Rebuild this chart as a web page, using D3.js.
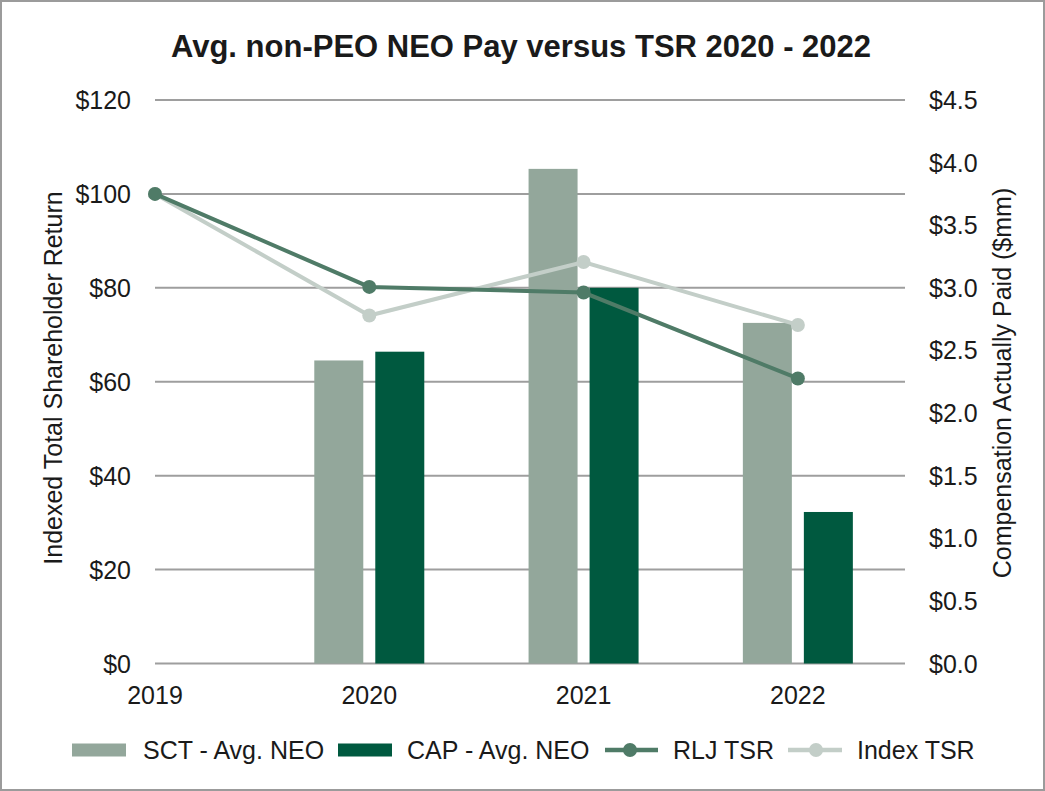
<!DOCTYPE html>
<html>
<head>
<meta charset="utf-8">
<script src="https://cdn.jsdelivr.net/npm/d3@7"></script>
<style>
  body { margin: 0; background: #fff; }
  svg { display: block; font-family: "Liberation Sans", Arial, sans-serif; }
</style>
</head>
<body>
<svg width="1045" height="791"></svg>
<script>
// data
const years = [2019, 2020, 2021, 2022]
const barYears = [2020, 2021, 2022]
const sctPay = [2.42, 3.95, 2.72]   // SCT - Avg. NEO ($mm)
const capPay = [2.49, 3.00, 1.21]   // CAP - Avg. NEO ($mm)
const rljTsr = [100, 80.2, 79.0, 60.7]
const indexTsr = [100, 74.1, 85.5, 72.1]
const leftTicks = [0, 20, 40, 60, 80, 100, 120]
const rightTicks = [0, 0.5, 1, 1.5, 2, 2.5, 3, 3.5, 4, 4.5]

const Width = 1045
const Height = 791
const svg = d3.select('svg')

const colSct = '#93a79b'
const colCap = '#00593f'
const colRlj = '#4f7b67'
const colIdx = '#c3cec8'
const ink = '#1a1a1a'

// outer frame
svg.append('rect').attr('x', 1).attr('y', 1).attr('width', Width - 2).attr('height', Height - 2)
  .attr('fill', '#fff').attr('stroke', '#9b9b9b').attr('stroke-width', 2)

// scales
const x = d3.scaleLinear().domain([2019, 2022.5]).range([155, 905])
const yL = d3.scaleLinear().domain([0, 120]).range([663.5, 100])
const yR = d3.scaleLinear().domain([0, 4.5]).range([663.5, 100])

// title
svg.append('text').attr('x', 521).attr('y', 57).attr('text-anchor', 'middle')
  .attr('font-size', 31).attr('font-weight', 'bold').attr('fill', ink)
  .text('Avg. non-PEO NEO Pay versus TSR 2020 - 2022')

// gridlines
svg.append('g').selectAll('line').data(leftTicks).enter().append('line')
  .attr('x1', 155).attr('x2', 905)
  .attr('y1', d => yL(d)).attr('y2', d => yL(d))
  .attr('stroke', '#9e9e9e').attr('stroke-width', 2)

// left axis labels
svg.append('g').selectAll('text').data(leftTicks).enter().append('text')
  .attr('x', 131).attr('y', d => yL(d) + 9).attr('text-anchor', 'end')
  .attr('font-size', 25).attr('fill', ink)
  .text(d => '$' + d)

// right axis labels
svg.append('g').selectAll('text').data(rightTicks).enter().append('text')
  .attr('x', 929).attr('y', d => yR(d) + 9).attr('text-anchor', 'start')
  .attr('font-size', 25).attr('fill', ink)
  .text(d => '$' + d.toFixed(1))

// x labels
svg.append('g').selectAll('text').data(years).enter().append('text')
  .attr('x', d => x(d)).attr('y', 704).attr('text-anchor', 'middle')
  .attr('font-size', 25).attr('fill', ink)
  .text(d => d)

// axis titles
svg.append('text').attr('transform', 'translate(62,378) rotate(-90)')
  .attr('text-anchor', 'middle').attr('font-size', 25).attr('fill', ink)
  .text('Indexed Total Shareholder Return')
svg.append('text').attr('transform', 'translate(1011,383) rotate(-90)')
  .attr('text-anchor', 'middle').attr('font-size', 25).attr('fill', ink)
  .text('Compensation Actually Paid ($mm)')

// bars
const barW = 49
svg.append('g').selectAll('rect').data(barYears).enter().append('rect')
  .attr('x', d => x(d) - 55).attr('width', barW)
  .attr('y', (d, i) => yR(sctPay[i])).attr('height', (d, i) => yR(0) - yR(sctPay[i]))
  .attr('fill', colSct)
svg.append('g').selectAll('rect').data(barYears).enter().append('rect')
  .attr('x', d => x(d) + 6).attr('width', barW)
  .attr('y', (d, i) => yR(capPay[i])).attr('height', (d, i) => yR(0) - yR(capPay[i]))
  .attr('fill', colCap)

// lines
function drawLine(vals, color) {
  const line = d3.line().x((d, i) => x(years[i])).y(d => yL(d))
  svg.append('path').datum(vals).attr('d', line)
    .attr('fill', 'none').attr('stroke', color).attr('stroke-width', 4)
  svg.append('g').selectAll('circle').data(vals).enter().append('circle')
    .attr('cx', (d, i) => x(years[i])).attr('cy', d => yL(d)).attr('r', 7)
    .attr('fill', color)
}
drawLine(indexTsr, colIdx)
drawLine(rljTsr, colRlj)

// legend
const lg = svg.append('g').attr('font-size', 25).attr('fill', ink)
const legY = 750
lg.append('rect').attr('x', 72).attr('y', legY - 6.5).attr('width', 54).attr('height', 13).attr('fill', colSct)
lg.append('text').attr('x', 143).attr('y', legY + 9).text('SCT - Avg. NEO')
lg.append('rect').attr('x', 338).attr('y', legY - 6.5).attr('width', 54).attr('height', 13).attr('fill', colCap)
lg.append('text').attr('x', 407).attr('y', legY + 9).text('CAP - Avg. NEO')
lg.append('line').attr('x1', 605).attr('x2', 658).attr('y1', legY).attr('y2', legY).attr('stroke', colRlj).attr('stroke-width', 4.5)
lg.append('circle').attr('cx', 630).attr('cy', legY).attr('r', 7).attr('fill', colRlj)
lg.append('text').attr('x', 673).attr('y', legY + 9).text('RLJ TSR')
lg.append('line').attr('x1', 788).attr('x2', 842).attr('y1', legY).attr('y2', legY).attr('stroke', colIdx).attr('stroke-width', 4.5)
lg.append('circle').attr('cx', 816).attr('cy', legY).attr('r', 7).attr('fill', colIdx)
lg.append('text').attr('x', 857).attr('y', legY + 9).text('Index TSR')
</script>
</body>
</html>
